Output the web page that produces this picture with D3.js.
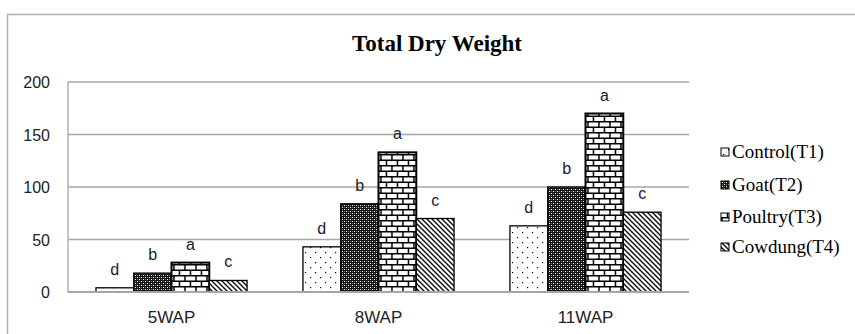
<!DOCTYPE html>
<html>
<head>
    <title>Total Dry Weight</title>
    <style>
        body { margin: 0; background: #fff; }
        .tick-label { font-family: "Liberation Sans", Arial, sans-serif; font-size: 16px; fill: #222; }
        .cat-label { font-family: "Liberation Sans", Arial, sans-serif; font-size: 17px; fill: #222; }
        .sig { font-family: "Liberation Sans", Arial, sans-serif; font-size: 16px; fill: #1a1a2e; }
        .legend-text { font-family: "Liberation Serif", "Times New Roman", serif; font-size: 19px; fill: #000; }
        .title { font-family: "Liberation Serif", "Times New Roman", serif; font-size: 23px; font-weight: bold; fill: #000; }
    </style>
</head>
<body>
    <div id="chart"></div>
    <script src="https://d3js.org/d3.v7.min.js"></script>
    <script>
        // chart data
        const categories = ["5WAP", "8WAP", "11WAP"];
        const seriesNames = ["Control(T1)", "Goat(T2)", "Poultry(T3)", "Cowdung(T4)"];
        const control = [4, 43, 63];
        const goat = [18, 84, 100];
        const poultry = [28, 133, 170];
        const cowdung = [11, 70, 76];
        const controlLetters = ["d", "d", "d"];
        const goatLetters = ["b", "b", "b"];
        const poultryLetters = ["a", "a", "a"];
        const cowdungLetters = ["c", "c", "c"];
        const yTicks = [0, 50, 100, 150, 200];

        const seriesValues = [control, goat, poultry, cowdung];
        const seriesLetters = [controlLetters, goatLetters, poultryLetters, cowdungLetters];
        const patternIds = ["pDots", "pGoat", "pBrick", "pDiag"];

        const width = 855, height = 334;
        const plot = { left: 68, right: 689, top: 82, bottom: 292 };

        const svg = d3.select("#chart").append("svg")
            .attr("width", width)
            .attr("height", height);

        // patterns
        const defs = svg.append("defs");

        const dots = defs.append("pattern").attr("id", "pDots")
            .attr("patternUnits", "userSpaceOnUse").attr("width", 10).attr("height", 10);
        dots.append("rect").attr("width", 10).attr("height", 10).attr("fill", "#fff");
        dots.append("rect").attr("x", 2).attr("y", 2).attr("width", 1.2).attr("height", 1.2).attr("fill", "#000");
        dots.append("rect").attr("x", 7).attr("y", 7).attr("width", 1.2).attr("height", 1.2).attr("fill", "#000");

        const goatP = defs.append("pattern").attr("id", "pGoat")
            .attr("patternUnits", "userSpaceOnUse").attr("width", 4).attr("height", 4);
        goatP.append("rect").attr("width", 4).attr("height", 4).attr("fill", "#151515");
        goatP.append("rect").attr("x", 1).attr("y", 1).attr("width", 1).attr("height", 1).attr("fill", "#fff");
        goatP.append("rect").attr("x", 3).attr("y", 3).attr("width", 1).attr("height", 1).attr("fill", "#fff");
        goatP.append("rect").attr("x", 3).attr("y", 1).attr("width", 1).attr("height", 1).attr("fill", "#777");
        goatP.append("rect").attr("x", 1).attr("y", 3).attr("width", 1).attr("height", 1).attr("fill", "#777");

        const brick = defs.append("pattern").attr("id", "pBrick")
            .attr("patternUnits", "userSpaceOnUse").attr("width", 11).attr("height", 11);
        brick.append("rect").attr("width", 11).attr("height", 11).attr("fill", "#fff");
        brick.append("path")
            .attr("d", "M0,0.75H11M0,6.25H11M1,0.75V6.25M6.5,6.25V11")
            .attr("stroke", "#000").attr("stroke-width", 1.5).attr("fill", "none");

        const diag = defs.append("pattern").attr("id", "pDiag")
            .attr("patternUnits", "userSpaceOnUse").attr("width", 5).attr("height", 5);
        diag.append("rect").attr("width", 5).attr("height", 5).attr("fill", "#fff");
        diag.append("path")
            .attr("d", "M0,0L5,5M-1,4L1,6M4,-1L6,1")
            .attr("stroke", "#000").attr("stroke-width", 1.3);

        // outer frame (left and top edges visible)
        svg.append("path")
            .attr("d", "M7.5,334V14.5H855")
            .attr("fill", "none").attr("stroke", "#b0b0b0").attr("stroke-width", 1.5);

        // title
        svg.append("text").attr("class", "title")
            .attr("x", 437).attr("y", 51)
            .attr("text-anchor", "middle")
            .text("Total Dry Weight");

        // scales
        const x0 = d3.scaleBand()
            .domain(categories)
            .range([plot.left, plot.right])
            .paddingInner(0.27)
            .paddingOuter(0.135);

        const x1 = d3.scaleBand()
            .domain(d3.range(seriesNames.length))
            .range([0, x0.bandwidth()]);

        const y = d3.scaleLinear()
            .domain([0, 200])
            .range([plot.bottom, plot.top]);

        // gridlines
        svg.append("g").selectAll("line")
            .data(yTicks.filter(d => d > 0))
            .join("line")
            .attr("x1", plot.left).attr("x2", plot.right)
            .attr("y1", d => y(d)).attr("y2", d => y(d))
            .attr("stroke", "#a6a6a6").attr("stroke-width", 1.3);

        // left axis line
        svg.append("line")
            .attr("x1", plot.left).attr("x2", plot.left)
            .attr("y1", plot.top).attr("y2", plot.bottom)
            .attr("stroke", "#a6a6a6").attr("stroke-width", 1.3);

        // y tick labels
        svg.append("g").selectAll("text")
            .data(yTicks)
            .join("text")
            .attr("class", "tick-label")
            .attr("x", 50)
            .attr("y", d => y(d) + 6)
            .attr("text-anchor", "end")
            .text(d => d);

        // bars
        const groups = svg.append("g").selectAll("g")
            .data(categories)
            .join("g")
            .attr("transform", d => `translate(${x0(d)},0)`);

        const cells = (c, ci) => seriesValues.map((vals, si) => ({ si, v: vals[ci], letter: seriesLetters[si][ci] }));

        groups.selectAll("rect")
            .data(cells)
            .join("rect")
            .attr("x", d => x1(d.si))
            .attr("y", d => y(d.v))
            .attr("width", x1.bandwidth())
            .attr("height", d => y(0) - y(d.v))
            .attr("fill", d => `url(#${patternIds[d.si]})`)
            .attr("stroke", "#000")
            .attr("stroke-width", d => d.si === 2 ? 2 : 1.3);

        // significance letters
        groups.selectAll("text")
            .data(cells)
            .join("text")
            .attr("class", "sig")
            .attr("x", d => x1(d.si) + x1.bandwidth() / 2)
            .attr("y", d => y(d.v) - 13)
            .attr("text-anchor", "middle")
            .text(d => d.letter);

        // bottom axis line
        svg.append("line")
            .attr("x1", plot.left).attr("x2", plot.right)
            .attr("y1", plot.bottom).attr("y2", plot.bottom)
            .attr("stroke", "#a6a6a6").attr("stroke-width", 2);

        // category labels
        svg.append("g").selectAll("text")
            .data(categories)
            .join("text")
            .attr("class", "cat-label")
            .attr("x", d => x0(d) + x0.bandwidth() / 2)
            .attr("y", 323)
            .attr("text-anchor", "middle")
            .text(d => d);

        // legend
        const legendY = [152, 185, 217, 247];
        const legend = svg.append("g").selectAll("g")
            .data(seriesNames)
            .join("g")
            .attr("transform", (d, i) => `translate(721,${legendY[i]})`);

        legend.append("rect")
            .attr("x", 0).attr("y", -4)
            .attr("width", 8).attr("height", 8)
            .attr("fill", (d, i) => `url(#${patternIds[i]})`)
            .attr("stroke", "#000").attr("stroke-width", 1);

        legend.append("text")
            .attr("class", "legend-text")
            .attr("x", 11).attr("y", 6)
            .text(d => d);
    </script>
</body>
</html>
